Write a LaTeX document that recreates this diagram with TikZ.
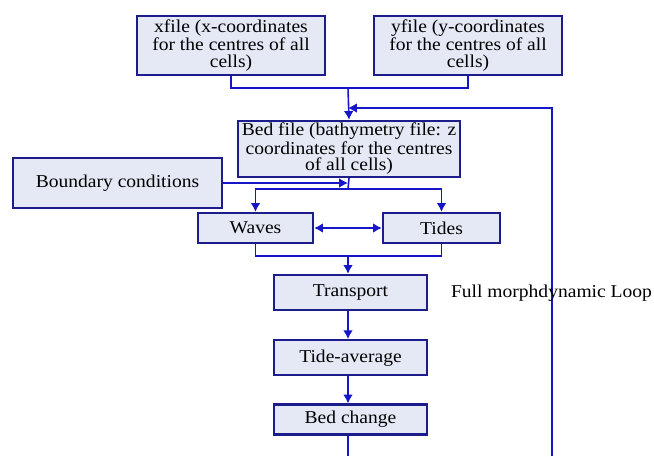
\documentclass[tikz,border=0pt]{standalone}
\usepackage{fontspec}
\setmainfont{Liberation Serif}[FakeStretch=1.08]
\usepackage{xcolor}
\usepackage{tikz}
\usetikzlibrary{arrows.meta,positioning}
\definecolor{boxline}{RGB}{28,28,140}
\definecolor{boxfill}{RGB}{228,233,245}
\definecolor{flowline}{RGB}{22,22,200}
\tikzset{
    %Define standard arrow tip
    >={Latex[length=5pt,width=5.5pt]},
    %Define style for boxes
    boks/.style={
           rectangle,
           draw=boxline, line width=1.3pt,
           fill=boxfill,
           inner sep=1pt,
           align=center,
           font=\fontsize{10.3}{9.4}\selectfont},
    % Define connector style
    linje/.style={
           draw=flowline,
           line width=0.9pt},
}

\begin{document}
\begin{tikzpicture}
    \useasboundingbox (0,0) rectangle (13.08,-9.12);
    \node[boks, minimum width=3.76cm, minimum height=1.18cm] (xfile) at (4.62,-0.91)
        {xfile (x-coordinates\\for the centres of all\\cells)};
    \node[boks, minimum width=3.76cm, minimum height=1.18cm] (yfile) at (9.36,-0.91)
        {yfile (y-coordinates\\for the centres of all\\cells)};
    \node[boks, minimum width=4.44cm, minimum height=1.12cm] (bed) at (6.98,-2.98)
        {Bed file (bathymetry file: z\\coordinates for the centres\\of all cells)};
    \node[boks, minimum width=4.18cm, minimum height=1.0cm] (boundary) at (2.35,-3.66)
        {Boundary conditions};
    \node[boks, minimum width=2.30cm, minimum height=0.6cm] (waves) at (5.11,-4.56) {Waves};
    \node[boks, minimum width=2.34cm, minimum height=0.6cm] (tides) at (8.83,-4.56) {Tides};
    \node[boks, minimum width=3.06cm, minimum height=0.7cm] (transport) at (7.01,-5.85) {Transport};
    \node[boks, minimum width=3.06cm, minimum height=0.7cm, below=0.56cm of transport]
        (tideavg) {Tide-average};
    \node[boks, minimum width=3.06cm, minimum height=0.6cm, below=0.54cm of tideavg]
        (bedchange) {Bed change};
    \coordinate (top) at (6.96,-1.76);
    \coordinate (loopin) at (6.96,-2.16);
    \coordinate (loopend) at (11.04,-9.12);
    \coordinate (bcin) at (6.96,-3.66);
    \coordinate (split) at (6.96,-3.78);
    \coordinate (merge) at (6.96,-5.12);
    \coordinate (outlet) at (6.96,-9.12);
    \draw[linje] (xfile.south) |- (top) -| (yfile.south);
    \draw[linje,->] (top) -- (bed.north);
    \draw[linje,->] (loopend) |- (loopin);
    \draw[linje] (bed.south) -- (split);
    \draw[linje,->] (boundary.east) -- (bcin);
    \draw[linje,->] (split) -| (waves.north);
    \draw[linje,->] (split) -| (tides.north);
    \draw[linje,<->] (waves) -- (tides);
    \draw[linje] (waves.south) |- (merge) -| (tides.south);
    \draw[linje,->] (merge) -- (merge |- transport.north);
    \draw[linje,->] (transport.south -| merge) -- (merge |- tideavg.north);
    \draw[linje,->] (tideavg.south -| merge) -- (merge |- bedchange.north);
    \draw[linje] (bedchange.south -| merge) -- (outlet);
    \node[font=\fontsize{10.3}{12}\selectfont] (looplabel) at (11.03,-5.86) {Full morphdynamic Loop};
\end{tikzpicture}
\end{document}
